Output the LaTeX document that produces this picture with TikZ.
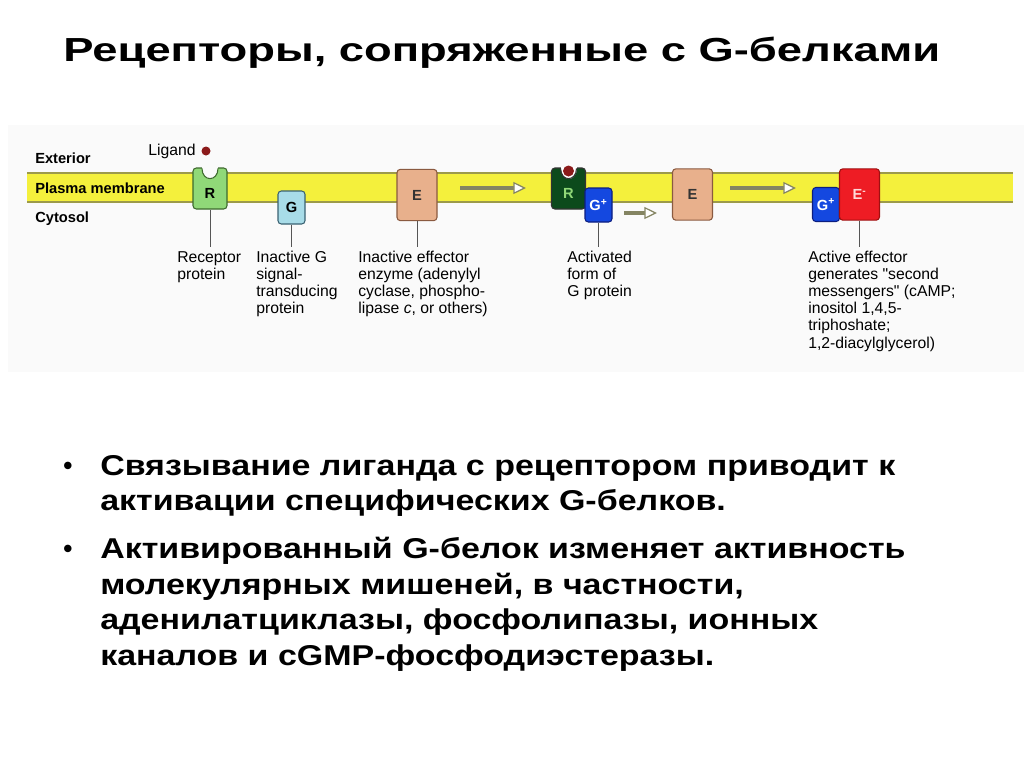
\documentclass[tikz,border=0pt]{standalone}
\usepackage{fontspec}
\setmainfont{Liberation Sans}
\newfontfamily\titlefont[FakeStretch=1.36]{Liberation Sans}
\newfontfamily\bulletfont[FakeStretch=1.185]{Liberation Sans}
\usetikzlibrary{arrows.meta}
\definecolor{gmemb}{HTML}{F4F03C}
\definecolor{gmembedge}{HTML}{9C9A4A}
\definecolor{gpanel}{HTML}{FAFAFA}
\definecolor{grcp}{HTML}{90D878}
\definecolor{grcpedge}{HTML}{3E6A2E}
\definecolor{grcpact}{HTML}{0C4A1C}
\definecolor{ggin}{HTML}{A8DCE8}
\definecolor{gginedge}{HTML}{3A6272}
\definecolor{gact}{HTML}{1448E0}
\definecolor{gactedge}{HTML}{0C1E80}
\definecolor{geff}{HTML}{E8B08C}
\definecolor{geffedge}{HTML}{8A5A40}
\definecolor{geffact}{HTML}{EE1C24}
\definecolor{geffactedge}{HTML}{A01010}
\definecolor{gligand}{HTML}{8B1A1A}
\definecolor{garr}{HTML}{848462}
\definecolor{glead}{HTML}{555555}

\begin{document}
\begin{tikzpicture}[
      x=0.75pt, y=-0.75pt,
      font=\fontsize{11.8}{12.8}\selectfont,
      prot/.style={draw, rounded corners=2.5pt, line width=0.8pt, inner sep=0pt,
                   font=\fontsize{11}{12}\selectfont\bfseries},
      rbox/.style={prot, fill=grcp, draw=grcpedge, minimum width=25.5pt, minimum height=30.75pt,
                   text height=15.5pt, text depth=0pt},
      rboxon/.style={rbox, fill=grcpact, draw=black!80, text=grcp},
      gbox/.style={prot, fill=ggin, draw=gginedge, minimum width=20.25pt, minimum height=24.75pt},
      gboxon/.style={gbox, fill=gact, draw=gactedge, text=white, minimum height=25.5pt},
      ebox/.style={prot, fill=geff, draw=geffedge, text=black!80, minimum width=30pt, minimum height=38.5pt},
      eboxon/.style={ebox, fill=geffact, draw=geffactedge, text=red!15},
      side/.style={anchor=west, inner sep=0pt, font=\fontsize{11}{12}\selectfont\bfseries},
      lab/.style={anchor=north west, inner sep=0pt, align=left},
      lead/.style={draw=glead, line width=0.7pt, shorten >=3pt},
      arr/.style={draw=garr, line width=3pt,
                  -{Triangle[fill=white, line width=0.9pt, length=9.5pt, width=9pt]}},
      bul/.style={anchor=west, inner sep=0pt, font=\fontsize{19.5}{26.6}\selectfont\bfseries},
      btext/.style={anchor=north west, inner sep=0pt, align=left,
                    font=\bulletfont\fontsize{21.5}{26.6}\selectfont\bfseries}
    ]
    \useasboundingbox (0,0) rectangle (1024,768);

    \node[anchor=west, inner sep=0pt, font=\titlefont\fontsize{25}{30}\selectfont\bfseries] (title) at (63,53)
      {Рецепторы, сопряженные с G-белками};

    \fill[gpanel] (8,125) rectangle (1024,372);
    \fill[gmemb] (27,173) rectangle (1013,202);
    \draw[gmembedge, line width=0.8pt] (27,173) -- (1013,173) (27,202) -- (1013,202);

    \node[side] (ext) at (35,158) {Exterior};
    \node[side] (pm) at (35,188) {Plasma membrane};
    \node[side] (cyt) at (35,219) {Cytosol};
    \node[anchor=west, inner sep=0pt] (lig) at (148,151) {Ligand};
    \fill[gligand] (206,151) circle[radius=4.5];

    \node[rbox] (r1) at (210,188.5) {R};
    \fill[gpanel] (202,167) .. controls (202,183) and (218,183) .. (218,167) -- cycle;
    \draw[grcpedge, line width=0.8pt] (202,168.4) .. controls (202,182) and (218,182) .. (218,168.4);
    \node[gbox] (g1) at (291.5,207.5) {G};
    \node[ebox] (e1) at (417,195) {E};

    \node[rboxon] (r2) at (568.5,188.5) {R};
    \fill[white] (560.5,167) .. controls (560.5,183) and (576.5,183) .. (576.5,167) -- cycle;
    \draw[black!80, line width=0.8pt] (560.5,168.4) .. controls (560.5,182) and (576.5,182) .. (576.5,168.4);
    \fill[gligand] (568.5,171) circle[radius=5.5];
    \node[gboxon] (g2) at (598.5,205) {G\textsuperscript{+}};
    \node[ebox] (e2) at (692.5,194.5) {E};

    \node[gboxon] (g3) at (826,204.5) {G\textsuperscript{+}};
    \node[eboxon] (e3) at (859.5,194.5) {E\textsuperscript{-}};

    \coordinate (a1s) at (460,188);
    \coordinate (a1e) at (526,188);
    \coordinate (a2s) at (624,213);
    \coordinate (a2e) at (657,213);
    \coordinate (a3s) at (730,188);
    \coordinate (a3e) at (796,188);
    \draw[arr] (a1s) -- (a1e);
    \draw[arr] (a2s) -- (a2e);
    \draw[arr] (a3s) -- (a3e);

    \node[lab] (r1lab) at (177,251) {Receptor\\protein};
    \node[lab] (g1lab) at (256,251) {Inactive G\\signal-\\transducing\\protein};
    \node[lab] (e1lab) at (358,251) {Inactive effector\\enzyme (adenylyl\\cyclase, phospho-\\lipase \textit{c}, or others)};
    \node[lab] (g2lab) at (567,251) {Activated\\form of\\G protein};
    \node[lab] (e3lab) at (808,251) {Active effector\\generates \textquotedbl second\\messengers\textquotedbl{} (cAMP;\\inositol 1,4,5-\\triphoshate;\\1,2-diacylglycerol)};
    \draw[lead] (r1.south) -- (r1.south |- r1lab.north);
    \draw[lead] (g1.south) -- (g1.south |- g1lab.north);
    \draw[lead] (e1.south) -- (e1.south |- e1lab.north);
    \draw[lead] (g2.south) -- (g2.south |- g2lab.north);
    \draw[lead] (e3.south) -- (e3.south |- e3lab.north);

    \node[bul] (dot1) at (63,468) {•};
    \node[btext] (txt1) at (100,455) {Связывание лиганда с рецептором приводит к\\активации специфических G-белков.};
    \node[bul] (dot2) at (63,551) {•};
    \node[btext] (txt2) at (100,537) {Активированный G-белок изменяет активность\\молекулярных мишеней, в частности,\\аденилатциклазы, фосфолипазы, ионных\\каналов и cGMP-фосфодиэстеразы.};
  \end{tikzpicture}
\end{document}
